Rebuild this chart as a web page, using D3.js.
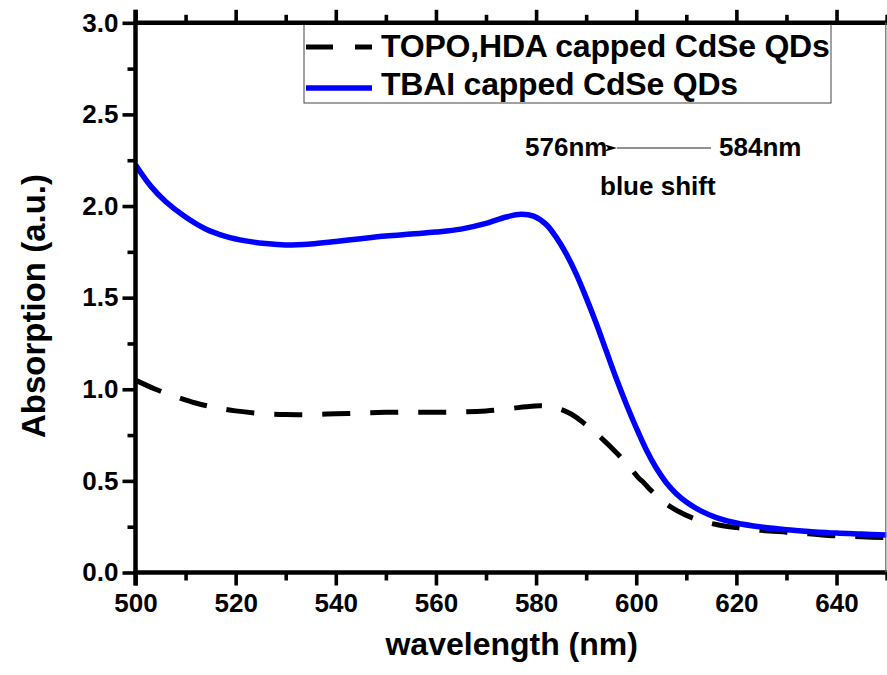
<!DOCTYPE html>
<html>
<head>
<meta charset="utf-8">
<script src="https://cdn.jsdelivr.net/npm/d3@7"></script>
<style>
  html, body { margin: 0; padding: 0; background: #fff; }
  svg { display: block; font-family: "Liberation Sans", Arial, sans-serif; font-weight: bold; }
</style>
</head>
<body>
<svg id="chart" width="887" height="675"></svg>
<script>
// ---- data ----
const tbaiWl  = [500,503,506,510,514,518,522,526,530,535,540,545,550,555,560,565,570,574,577,579.5,582,584,586,588,590,592,594,596,598,600,602,604,606,608,610,613,616,620,625,630,635,640,645,650];
const tbaiAbs = [2.225,2.11,2.025,1.94,1.875,1.835,1.81,1.795,1.787,1.793,1.807,1.822,1.836,1.847,1.858,1.874,1.905,1.94,1.955,1.945,1.90,1.83,1.74,1.63,1.50,1.36,1.21,1.06,0.92,0.79,0.67,0.57,0.49,0.43,0.385,0.335,0.30,0.27,0.248,0.233,0.223,0.215,0.21,0.205];

const topoWl  = [500,504,508,512,516,520,525,530,535,540,545,550,555,560,565,570,575,578,581,584,587,590,593,596,599,600.5,601.5,602.5,603.5,605,608,612,616,620,625,630,635,640,645,650];
const topoAbs = [1.05,1.0,0.96,0.925,0.90,0.882,0.868,0.862,0.862,0.866,0.87,0.874,0.875,0.875,0.876,0.882,0.895,0.905,0.91,0.898,0.865,0.805,0.735,0.655,0.565,0.515,0.49,0.46,0.435,0.395,0.34,0.29,0.262,0.245,0.23,0.22,0.21,0.20,0.195,0.19];

const xMajorTicks = [500,520,540,560,580,600,620,640];
const xMinorTicks = [510,530,550,570,590,610,630,650];
const yMajorTicks = [0.0,0.5,1.0,1.5,2.0,2.5,3.0];
const yMinorTicks = [0.25,0.75,1.25,1.75,2.25,2.75];

const legendLabels = ["TOPO,HDA capped CdSe QDs", "TBAI capped CdSe QDs"];
const xTitle = "wavelength (nm)";
const yTitle = "Absorption (a.u.)";

// ---- layout ----
const svg = d3.select("#chart");
const L = 135.5, R = 886.6, T = 22.8, B = 572.5;
const x = d3.scaleLinear().domain([500, 650]).range([L, R]);
const y = d3.scaleLinear().domain([0, 3]).range([B, T]);

svg.append("defs").append("clipPath").attr("id", "plotclip")
  .append("rect").attr("x", L).attr("y", T).attr("width", R - L).attr("height", B - T);

// curves
const line = d3.line().x(d => x(d[0])).y(d => y(d[1])).curve(d3.curveCatmullRom.alpha(0.5));
const g = svg.append("g").attr("clip-path", "url(#plotclip)");
g.append("path").datum(topoWl.map((w, i) => [w, topoAbs[i]]))
  .attr("d", line).attr("fill", "none").attr("stroke", "#000")
  .attr("stroke-width", 5).attr("stroke-dasharray", "28,20");
g.append("path").datum(tbaiWl.map((w, i) => [w, tbaiAbs[i]]))
  .attr("d", line).attr("fill", "none").attr("stroke", "#0000ff")
  .attr("stroke-width", 5.5);

// legend
const lg = svg.append("g");
lg.append("rect").attr("x", 304).attr("y", T).attr("width", 527).attr("height", 103 - T)
  .attr("fill", "none").attr("stroke", "#444").attr("stroke-width", 1);
lg.append("line").attr("x1", 306).attr("x2", 372).attr("y1", 47).attr("y2", 47)
  .attr("stroke", "#000").attr("stroke-width", 5).attr("stroke-dasharray", "27,22");
lg.append("line").attr("x1", 306).attr("x2", 372).attr("y1", 88).attr("y2", 88)
  .attr("stroke", "#0000ff").attr("stroke-width", 5.5);
lg.selectAll("text.leg").data(legendLabels).join("text")
  .attr("class", "leg").attr("x", 381).attr("y", (d, i) => i === 0 ? 57 : 95)
  .attr("font-size", 32).attr("letter-spacing", -0.2).attr("fill", "#000").text(d => d);

// annotations
svg.append("defs").append("marker").attr("id", "arrow")
  .attr("viewBox", "0 0 12 7").attr("refX", 0).attr("refY", 3.5)
  .attr("markerWidth", 12).attr("markerHeight", 7).attr("markerUnits", "userSpaceOnUse")
  .attr("orient", "auto-start-reverse")
  .append("path").attr("d", "M0,3.5 L12,0 L9,3.5 L12,7 Z").attr("fill", "#000");
svg.append("line").attr("x1", 617).attr("x2", 711).attr("y1", 148).attr("y2", 148)
  .attr("stroke", "#222").attr("stroke-width", 1).attr("marker-start", "url(#arrow)");
svg.append("text").attr("x", 525).attr("y", 156).attr("font-size", 26).text("576nm");
svg.append("text").attr("x", 719).attr("y", 156).attr("font-size", 26).text("584nm");
svg.append("text").attr("x", 600).attr("y", 195).attr("font-size", 26).text("blue shift");

// axes
function styleAxis(sel, w) {
  sel.select(".domain").remove();
  sel.selectAll(".tick line").attr("stroke", "#000").attr("stroke-width", w);
  sel.selectAll(".tick text").attr("font-size", 26).attr("fill", "#000")
    .attr("font-family", "'Liberation Sans', Arial, sans-serif").attr("font-weight", "bold");
}
const fmtY = d3.format(".1f");
const TW = 3.6;
// bottom
svg.append("g").attr("transform", `translate(0,${B})`)
  .call(d3.axisBottom(x).tickValues(xMajorTicks).tickSize(13).tickPadding(8).tickFormat(d3.format("d")))
  .call(s => styleAxis(s, TW));
svg.append("g").attr("transform", `translate(0,${B})`)
  .call(d3.axisBottom(x).tickValues(xMinorTicks).tickSize(8).tickFormat(""))
  .call(s => styleAxis(s, TW));
// top
svg.append("g").attr("transform", `translate(0,${T})`)
  .call(d3.axisTop(x).tickValues(xMajorTicks).tickSize(13).tickFormat(""))
  .call(s => styleAxis(s, TW));
svg.append("g").attr("transform", `translate(0,${T})`)
  .call(d3.axisTop(x).tickValues(xMinorTicks).tickSize(8).tickFormat(""))
  .call(s => styleAxis(s, TW));
// left
svg.append("g").attr("transform", `translate(${L},0)`)
  .call(d3.axisLeft(y).tickValues(yMajorTicks).tickSize(13).tickPadding(4).tickFormat(fmtY))
  .call(s => styleAxis(s, TW));
svg.append("g").attr("transform", `translate(${L},0)`)
  .call(d3.axisLeft(y).tickValues(yMinorTicks).tickSize(8).tickFormat(""))
  .call(s => styleAxis(s, TW));

// frame lines
svg.append("line").attr("x1", L - 2).attr("x2", R + 2).attr("y1", B).attr("y2", B).attr("stroke", "#000").attr("stroke-width", 4.5);
svg.append("line").attr("x1", L - 2).attr("x2", R + 2).attr("y1", T).attr("y2", T).attr("stroke", "#000").attr("stroke-width", 4.5);
svg.append("line").attr("x1", L).attr("x2", L).attr("y1", T - 13).attr("y2", B + 13).attr("stroke", "#000").attr("stroke-width", 4.5);
svg.append("line").attr("x1", 885.8).attr("x2", 885.8).attr("y1", T).attr("y2", B).attr("stroke", "#666").attr("stroke-width", 1.2);

// titles
svg.append("text").attr("x", 511.7).attr("y", 655).attr("text-anchor", "middle")
  .attr("font-size", 32).text(xTitle);
svg.append("text").attr("transform", "translate(45,306) rotate(-90)").attr("text-anchor", "middle")
  .attr("font-size", 33).text(yTitle);
</script>
</body>
</html>
